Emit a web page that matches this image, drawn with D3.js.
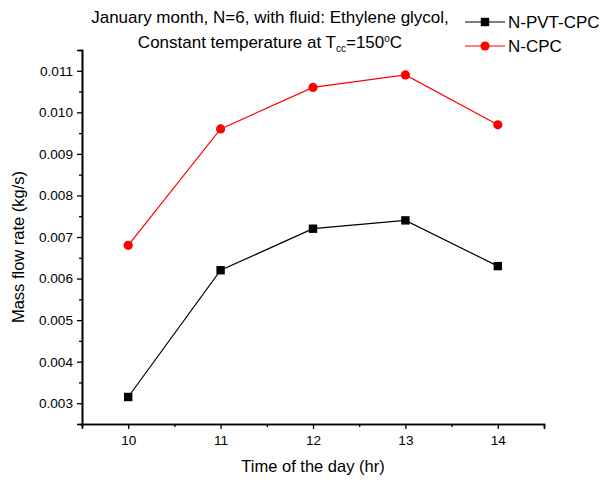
<!DOCTYPE html>
<html>
<head>
<meta charset="utf-8">
<script src="https://cdn.jsdelivr.net/npm/d3@7"></script>
<style>
  html, body { margin: 0; padding: 0; background: #fff; }
  svg { display: block; font-family: Arial, "Liberation Sans", sans-serif; }
</style>
</head>
<body>
<svg id="chart" width="603" height="482"></svg>
<script>
// Hours of the day and mass flow rates for each collector type
const hours = [10, 11, 12, 13, 14];
const nPvtCpc = [0.00315, 0.0062, 0.0072, 0.0074, 0.0063];
const nCpc = [0.0068, 0.0096, 0.0106, 0.0109, 0.0097];
const xTicks = [10, 11, 12, 13, 14];
const yTicks = [0.003, 0.004, 0.005, 0.006, 0.007, 0.008, 0.009, 0.010, 0.011];
const seriesNames = ["N-PVT-CPC", "N-CPC"];

const svg = d3.select("#chart");
const plotLeft = 82, plotRight = 544, plotTop = 50, plotBottom = 424;

const x = d3.scaleLinear().domain([9.5, 14.5]).range([plotLeft, plotRight]);
const y = d3.scaleLinear().domain([0.0025, 0.0115]).range([plotBottom, plotTop]);

// Axes (major ticks labelled, minor ticks halfway)
const xAxis = d3.axisBottom(x).tickValues(xTicks).tickFormat(d3.format("d")).tickSize(5).tickPadding(6);
const xMinor = d3.axisBottom(x).tickValues([10.5, 11.5, 12.5, 13.5]).tickFormat("").tickSize(3);
const yAxis = d3.axisLeft(y).tickValues(yTicks).tickFormat(d3.format(".3f")).tickSize(5).tickPadding(4);
const yMinor = d3.axisLeft(y).tickValues(yTicks.map(v => v + 0.0005).filter(v => v < 0.0115)).tickFormat("").tickSize(3);

function styleAxis(g) {
  g.select(".domain").attr("stroke", "#000").attr("stroke-width", 1.6);
  g.selectAll(".tick line").attr("stroke", "#000").attr("stroke-width", 1.3);
  g.selectAll(".tick text").attr("fill", "#000").attr("font-size", 13.6);
}

svg.append("g").attr("transform", `translate(0,${plotBottom})`).call(xMinor).call(styleAxis);
svg.append("g").attr("transform", `translate(0,${plotBottom})`).call(xAxis).call(styleAxis);
svg.append("g").attr("transform", `translate(${plotLeft},0)`).call(yMinor).call(styleAxis);
svg.append("g").attr("transform", `translate(${plotLeft},0)`).call(yAxis).call(styleAxis);

// Axis titles
svg.append("text").attr("x", 313).attr("y", 472).attr("text-anchor", "middle")
  .attr("font-size", 16.5).text("Time of the day (hr)");
svg.append("text").attr("transform", "translate(24,247) rotate(-90)").attr("text-anchor", "middle")
  .attr("font-size", 16.5).text("Mass flow rate (kg/s)");

// Chart title
const title = svg.append("g").attr("font-size", 17).attr("text-anchor", "middle");
title.append("text").attr("x", 270).attr("y", 23).text("January month, N=6, with fluid: Ethylene glycol,");
const t2 = title.append("text").attr("x", 270).attr("y", 48);
t2.append("tspan").text("Constant temperature at T");
t2.append("tspan").attr("font-size", 10).attr("dy", 4).text("cc");
t2.append("tspan").attr("dy", -4).text("=150");
t2.append("tspan").attr("font-size", 10).attr("dy", -6).text("o");
t2.append("tspan").attr("dy", 6).text("C");

// Series
const line = d3.line().x(d => x(d[0])).y(d => y(d[1]));
const blackData = hours.map((h, i) => [h, nPvtCpc[i]]);
const redData = hours.map((h, i) => [h, nCpc[i]]);

svg.append("path").datum(redData).attr("d", line).attr("fill", "none").attr("stroke", "#ff0000").attr("stroke-width", 1.2);
svg.append("path").datum(blackData).attr("d", line).attr("fill", "none").attr("stroke", "#000").attr("stroke-width", 1.2);

svg.selectAll(".pt-red").data(redData).enter().append("circle")
  .attr("cx", d => x(d[0])).attr("cy", d => y(d[1])).attr("r", 4.6).attr("fill", "#ff0000");
svg.selectAll(".pt-black").data(blackData).enter().append("rect")
  .attr("x", d => x(d[0]) - 4.2).attr("y", d => y(d[1]) - 4.2).attr("width", 8.4).attr("height", 8.4).attr("fill", "#000");

// Legend
const legend = svg.append("g").attr("font-size", 17);
const lg = [
  { name: seriesNames[0], color: "#000", shape: "square", yy: 22 },
  { name: seriesNames[1], color: "#ff0000", shape: "circle", yy: 46 }
];
lg.forEach(d => {
  legend.append("line").attr("x1", 465).attr("x2", 505).attr("y1", d.yy).attr("y2", d.yy)
    .attr("stroke", d.color).attr("stroke-width", 1.2);
  if (d.shape === "square") {
    legend.append("rect").attr("x", 485 - 4.2).attr("y", d.yy - 4.2).attr("width", 8.4).attr("height", 8.4).attr("fill", d.color);
  } else {
    legend.append("circle").attr("cx", 485).attr("cy", d.yy).attr("r", 4.6).attr("fill", d.color);
  }
  legend.append("text").attr("x", 508).attr("y", d.yy + 6).text(d.name);
});
</script>
</body>
</html>
